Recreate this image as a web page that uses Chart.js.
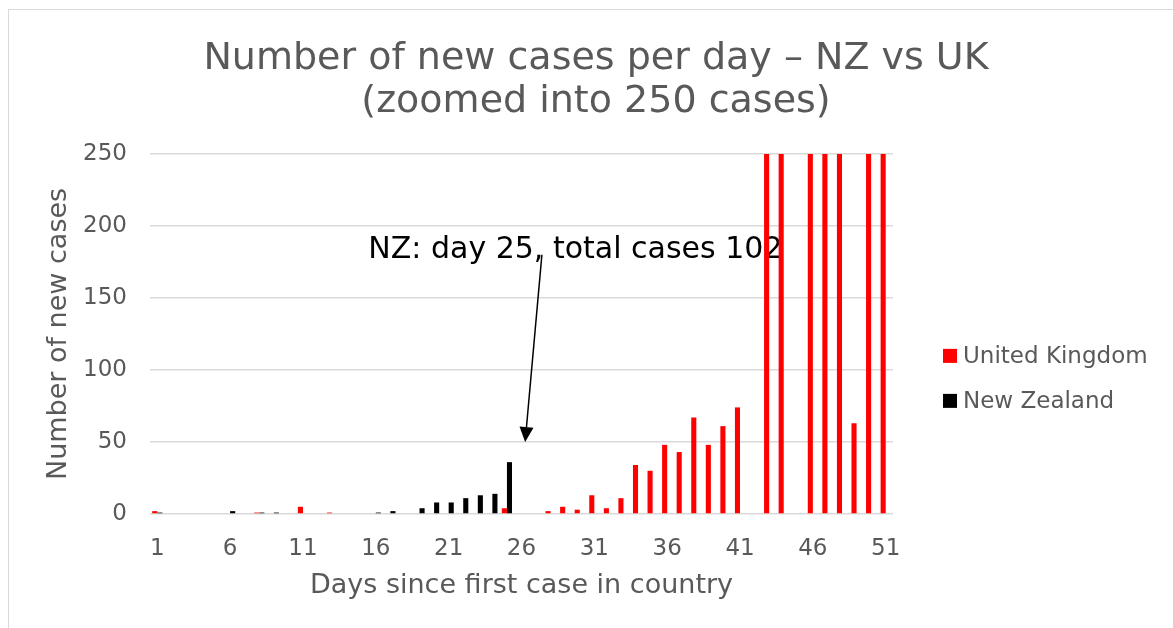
<!DOCTYPE html>
<html>
<head>
<meta charset="utf-8">
<title>NZ vs UK new cases</title>
<script src="https://cdn.jsdelivr.net/npm/chart.js@4.4.1/dist/chart.umd.min.js"></script>
<style>
    html, body { margin: 0; padding: 0; background: #fff; overflow: hidden; }
    #frame {
        position: absolute;
        left: 8px;
        top: 9px;
        width: 1190px;
        height: 640px;
        border: 1px solid #d9d9d9;
    }
    #wrap {
        position: absolute;
        left: 0px;
        top: 0px;
        width: 1174px;
        height: 618px;
    }
</style>
</head>
<body>
<div id="frame">
    <div id="wrap"><canvas id="casesChart"></canvas></div>
</div>

<script>
// days since first case in country
const days = [
    '1', '2', '3', '4', '5', '6', '7', '8', '9', '10',
    '11', '12', '13', '14', '15', '16', '17', '18', '19', '20',
    '21', '22', '23', '24', '25', '26', '27', '28', '29', '30',
    '31', '32', '33', '34', '35', '36', '37', '38', '39', '40',
    '41', '42', '43', '44', '45', '46', '47', '48', '49', '50',
    '51'
];

// new cases per day, United Kingdom (values above 250 are cut off by the zoom)
const ukCases = [
    2, 0, 0, 0, 0, 0, 0, 1, 0, 0,
    5, 0, 1, 0, 0, 0, 0, 0, 0, 0,
    0, 0, 0, 0, 4, 0, 0, 2, 5, 3,
    13, 4, 11, 34, 30, 48, 43, 67, 48, 61,
    74, 0, 342, 342, 0, 407, 676, 643, 63, 714,
    1035
];

// new cases per day, New Zealand
const nzCases = [
    1, 0, 0, 0, 0, 2, 0, 1, 1, 0,
    0, 0, 0, 0, 0, 1, 2, 0, 4, 8,
    8, 11, 13, 14, 36, 0, 0, 0, 0, 0,
    0, 0, 0, 0, 0, 0, 0, 0, 0, 0,
    0, 0, 0, 0, 0, 0, 0, 0, 0, 0,
    0
];

const seriesNames = ['United Kingdom', 'New Zealand'];
const seriesColors = ['#ff0000', '#000000'];
const yTicks = [0, 50, 100, 150, 200, 250];

const titleLines = ['Number of new cases per day \u2013 NZ vs UK', '(zoomed into 250 cases)'];
const noteText = 'NZ: day 25, total cases 102';

const fontFamily = "'DejaVu Sans', Verdana, sans-serif";
const grey = '#595959';

// the callout text and its arrow, placed in data units (category index, cases)
const note = { x: 28.7, y: 183 };
const arrowFrom = { x: 26.4, y: 180 };
const arrowTo = { x: 25.25, y: 50 };

const notePlugin = {
    id: 'note',
    beforeDatasetsDraw: function(chart) {
        const ctx = chart.ctx;
        const xs = chart.scales.x;
        const ys = chart.scales.y;

        ctx.save();
        ctx.fillStyle = '#000';
        ctx.font = '30px ' + fontFamily;
        ctx.textAlign = 'center';
        ctx.textBaseline = 'middle';
        ctx.fillText(noteText, xs.getPixelForValue(note.x), ys.getPixelForValue(note.y));
        ctx.restore();
    },
    afterDatasetsDraw: function(chart) {
        const ctx = chart.ctx;
        const xs = chart.scales.x;
        const ys = chart.scales.y;

        const x1 = xs.getPixelForValue(arrowFrom.x);
        const y1 = ys.getPixelForValue(arrowFrom.y);
        const x2 = xs.getPixelForValue(arrowTo.x);
        const y2 = ys.getPixelForValue(arrowTo.y);
        const angle = Math.atan2(y2 - y1, x2 - x1);
        const headLen = 15;
        const headHalf = 7;

        ctx.save();
        ctx.strokeStyle = '#000';
        ctx.fillStyle = '#000';
        ctx.lineWidth = 1.5;
        const bx = x2 - headLen * Math.cos(angle);
        const by = y2 - headLen * Math.sin(angle);
        ctx.beginPath();
        ctx.moveTo(x1, y1);
        ctx.lineTo(bx, by);
        ctx.stroke();
        ctx.beginPath();
        ctx.moveTo(x2, y2);
        ctx.lineTo(bx + headHalf * Math.sin(angle), by - headHalf * Math.cos(angle));
        ctx.lineTo(bx - headHalf * Math.sin(angle), by + headHalf * Math.cos(angle));
        ctx.closePath();
        ctx.fill();
        ctx.restore();
    }
};

// legend drawn at the right of the plot, Excel style
const legendPlugin = {
    id: 'sideLegend',
    afterDraw: function(chart) {
        const ctx = chart.ctx;
        const area = chart.chartArea;
        const box = 14;

        ctx.save();
        ctx.font = '23px ' + fontFamily;
        ctx.textBaseline = 'middle';
        ctx.textAlign = 'left';
        chart.data.datasets.forEach((ds, i) => {
            const cy = area.top + 202 + i * 45;
            const bx = area.right + 50;
            ctx.fillStyle = ds.backgroundColor;
            ctx.fillRect(bx, cy - box / 2, box, box);
            ctx.fillStyle = grey;
            ctx.fillText(ds.label, bx + box + 6, cy + 1);
        });
        ctx.restore();
    }
};

document.addEventListener('DOMContentLoaded', () => {

    const ctx = document.getElementById('casesChart');

    new Chart(ctx, {
        type: 'bar',
        data: {
            labels: days,
            datasets: [
                {
                    label: seriesNames[0],
                    data: ukCases,
                    backgroundColor: seriesColors[0],
                    categoryPercentage: 0.7,
                    barPercentage: 1.0
                },
                {
                    label: seriesNames[1],
                    data: nzCases,
                    backgroundColor: seriesColors[1],
                    categoryPercentage: 0.7,
                    barPercentage: 1.0
                }
            ]
        },
        options: {
            responsive: true,
            maintainAspectRatio: false,
            animation: false,
            layout: {
                padding: 0
            },
            plugins: {
                legend: { display: false },
                tooltip: { enabled: false },
                title: {
                    display: true,
                    text: titleLines,
                    color: grey,
                    font: { family: fontFamily, size: 38, weight: 'normal', lineHeight: 1.13 },
                    padding: { top: 28, bottom: 30 }
                }
            },
            scales: {
                x: {
                    grid: { display: false, drawTicks: false },
                    border: { display: false },
                    ticks: {
                        autoSkip: false,
                        maxRotation: 0,
                        color: grey,
                        padding: 21,
                        font: { family: fontFamily, size: 23 },
                        callback: function(value, index) {
                            return (index % 5 === 0) ? days[index] : '';
                        }
                    },
                    title: {
                        display: true,
                        text: 'Days since first case in country',
                        color: grey,
                        font: { family: fontFamily, size: 27, lineHeight: 1.2 },
                        padding: { top: 0, bottom: 26 }
                    },
                    afterFit: function(scale) {
                        scale.height = 114;
                    }
                },
                y: {
                    min: 0,
                    max: 250,
                    afterBuildTicks: function(scale) {
                        scale.ticks = yTicks.map(v => ({ value: v }));
                    },
                    grid: { color: '#d9d9d9', lineWidth: 1.5, drawTicks: false },
                    border: { display: false },
                    ticks: {
                        color: grey,
                        padding: 23,
                        font: { family: fontFamily, size: 23 }
                    },
                    title: {
                        display: true,
                        text: 'Number of new cases',
                        color: grey,
                        font: { family: fontFamily, size: 27, lineHeight: 1.2 },
                        padding: { top: 34, bottom: 0 }
                    },
                    afterFit: function(scale) {
                        scale.width = 141;
                    }
                },
                // empty axis on the right that keeps room for the legend
                side: {
                    type: 'linear',
                    position: 'right',
                    grid: { display: false, drawTicks: false },
                    border: { display: false },
                    ticks: { display: false },
                    afterFit: function(scale) {
                        scale.width = 290;
                    }
                }
            }
        },
        plugins: [notePlugin, legendPlugin]
    });
});
</script>
</body>
</html>
